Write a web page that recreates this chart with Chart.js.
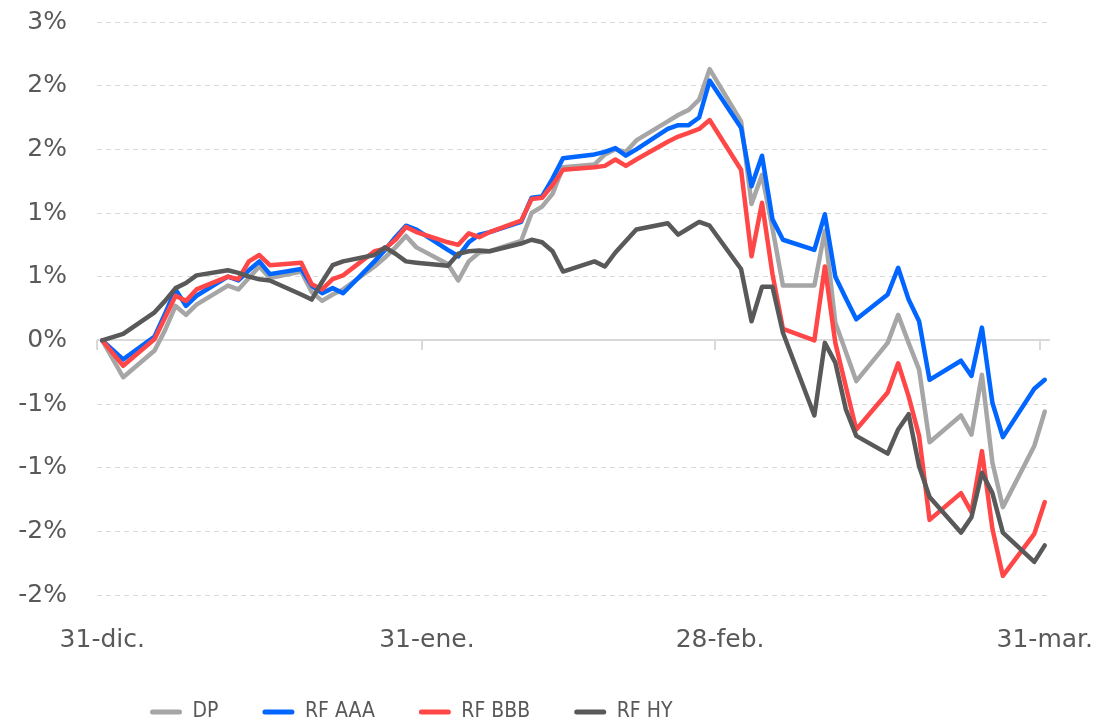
<!DOCTYPE html>
<html>
<head>
<meta charset="utf-8">
<script src="https://cdn.jsdelivr.net/npm/chart.js@4.4.1/dist/chart.umd.min.js"></script>
<style>
  html, body { margin: 0; padding: 0; background: #ffffff; }
  #wrap { width: 1104px; height: 726px; }
</style>
</head>
<body>
<div id="wrap"><canvas id="c" width="1104" height="726"></canvas></div>
<script>
// Days after 31-dic (business days)
const days = [0,2,5,6,7,8,9,12,13,14,15,16,19,20,21,22,23,26,27,28,29,30,33,34,35,36,37,40,41,42,43,44,47,48,49,50,51,54,55,56,57,58,61,62,63,64,65,68,69,70,71,72,75,76,77,78,79,82,83,84,85,86,89,90];

const seriesNames = ['DP', 'RF AAA', 'RF BBB', 'RF HY'];

const dp  = [0,-0.29,-0.08,0.08,0.27,0.20,0.28, 0.43,0.40,0.49,0.58,0.49, 0.54,0.38,0.31,0.36,0.40, 0.58,0.65,0.73,0.82,0.73, 0.60,0.47,0.62,0.69,0.70, 0.78,1.00,1.05,1.15,1.36, 1.38,1.46,1.50,1.48,1.57, 1.72,1.77,1.81,1.89,2.13, 1.72,1.07,1.30,0.88,0.43, 0.43,0.86,0.14,-0.09,-0.32, -0.02,0.20,-0.02,-0.23,-0.80, -0.59,-0.74,-0.27,-0.96,-1.31, -0.83,-0.56];
const aaa = [0,-0.15,0.03,0.21,0.40,0.27,0.35, 0.50,0.47,0.55,0.62,0.52, 0.56,0.43,0.37,0.41,0.37, 0.62,0.71,0.81,0.90,0.87, 0.71,0.66,0.77,0.83,0.85, 0.93,1.12,1.13,1.27,1.43, 1.46,1.48,1.51,1.45,1.50, 1.66,1.69,1.69,1.75,2.04, 1.67,1.21,1.45,0.95,0.79, 0.71,0.99,0.50,0.33,0.165, 0.36,0.57,0.32,0.15,-0.31, -0.16,-0.28,0.10,-0.49,-0.76, -0.38,-0.31];
const bbb = [0,-0.20,0.01,0.18,0.35,0.31,0.40, 0.50,0.48,0.62,0.67,0.59, 0.61,0.44,0.40,0.48,0.51, 0.70,0.72,0.79,0.89,0.85, 0.77,0.75,0.84,0.81,0.85, 0.94,1.11,1.12,1.22,1.34, 1.36,1.37,1.42,1.37,1.42, 1.56,1.60,1.63,1.66,1.73, 1.34,0.66,1.08,0.52,0.09, 0.00,0.58,-0.02,-0.36,-0.70, -0.41,-0.18,-0.44,-0.75,-1.41, -1.20,-1.35,-0.87,-1.48,-1.85, -1.52,-1.27];
const hy  = [0,0.05,0.22,0.31,0.41,0.45,0.51, 0.55,0.53,0.50,0.48,0.47, 0.36,0.32,0.46,0.59,0.62, 0.67,0.73,0.68,0.62,0.61, 0.585,0.68,0.70,0.705,0.70, 0.76,0.79,0.77,0.70,0.54, 0.62,0.58,0.69,0.78,0.87, 0.92,0.83,0.88,0.93,0.90, 0.56,0.15,0.42,0.42,0.06, -0.59,-0.02,-0.175,-0.54,-0.75, -0.89,-0.70,-0.58,-0.99,-1.23, -1.51,-1.39,-1.04,-1.20,-1.51, -1.74,-1.61];

const xTickDays   = [0, 31, 59, 90];
const xTickLabels = ['31-dic.', '31-ene.', '28-feb.', '31-mar.'];

const seriesColors = ['#a6a6a6', '#0066ff', '#ff4747', '#595959'];

const TEXT = '#595959';
const FONT = "'DejaVu Sans', sans-serif";
const LEGEND_FONT = "'Liberation Sans Narrow', 'DejaVu Sans Condensed', sans-serif";

function pts(vals) { return vals.map((v, i) => ({ x: days[i], y: v })); }

const allSeries = [dp, aaa, bbb, hy];
const datasets = allSeries.map((vals, i) => ({
  label: seriesNames[i],
  data: pts(vals),
  borderColor: seriesColors[i],
  backgroundColor: seriesColors[i],
  borderWidth: 4.5,
  pointRadius: 0,
  pointHoverRadius: 0,
  tension: 0,
  borderJoinStyle: 'round',
  borderCapStyle: 'round',
  order: allSeries.length - 1 - i
}));

const zeroLinePlugin = {
  id: 'zeroLine',
  beforeDatasetsDraw(chart) {
    const { ctx, chartArea, scales } = chart;
    const y0 = Math.round(scales.y.getPixelForValue(0));
    ctx.save();
    ctx.strokeStyle = '#d9d9d9';
    ctx.lineWidth = 2;
    ctx.beginPath();
    ctx.moveTo(chartArea.left, y0);
    ctx.lineTo(chartArea.right, y0);
    xTickDays.forEach(d => {
      const x = Math.round(scales.x.getPixelForValue(d - 0.5));
      ctx.moveTo(x, y0);
      ctx.lineTo(x, y0 + 10);
    });
    ctx.stroke();
    ctx.restore();
  }
};

const legendShiftPlugin = {
  id: 'legendShift',
  afterLayout(chart) {
    if (chart.legend) { chart.legend.left = 106; }
  }
};

function roundAway(v) { const r = Math.round(Math.abs(v)); return v < 0 && r !== 0 ? -r : r; }

new Chart(document.getElementById('c'), {
  type: 'line',
  data: { datasets },
  plugins: [zeroLinePlugin, legendShiftPlugin],
  options: {
    responsive: false,
    devicePixelRatio: 1,
    animation: false,
    layout: { padding: { left: 0, right: 54, top: 22, bottom: 0 } },
    plugins: {
      tooltip: { enabled: false },
      legend: {
        position: 'bottom',
        align: 'start',
        maxHeight: 68.5,
        labels: {
          color: TEXT,
          font: { family: LEGEND_FONT, size: 21 },
          boxWidth: 32,
          boxHeight: 5,
          useBorderRadius: true,
          borderRadius: 2.5,
          padding: 44,
          sort: (a, b) => a.datasetIndex - b.datasetIndex,
          generateLabels(chart) {
            const items = Chart.defaults.plugins.legend.labels.generateLabels(chart);
            items.forEach(it => { it.lineWidth = 0; it.fillStyle = it.strokeStyle; });
            return items;
          }
        }
      }
    },
    scales: {
      x: {
        type: 'linear',
        min: -0.5,
        max: 90.5,
        afterBuildTicks(scale) { scale.ticks = xTickDays.map(v => ({ value: v })); },
        afterFit(scale) { scale.paddingLeft = 0; scale.paddingRight = 0; scale.height = 62.5; },
        ticks: {
          autoSkip: false,
          maxRotation: 0,
          padding: 30,
          color: TEXT,
          font: { family: FONT, size: 25 },
          callback(value) { const k = xTickDays.indexOf(value); return k >= 0 ? xTickLabels[k] : ''; }
        },
        grid: { display: false, drawTicks: false },
        border: { display: false }
      },
      y: {
        min: -2,
        max: 2.5,
        afterFit(scale) { scale.paddingTop = 0; scale.paddingBottom = 0; scale.width = 97; },
        ticks: {
          stepSize: 0.5,
          padding: 30,
          color: TEXT,
          font: { family: FONT, size: 25 },
          callback(value) { return roundAway(value) + '%'; }
        },
        grid: { color: '#d9d9d9', lineWidth: 1, drawTicks: false },
        border: { display: false, dash: [5, 4] }
      }
    }
  }
});
</script>
</body>
</html>
